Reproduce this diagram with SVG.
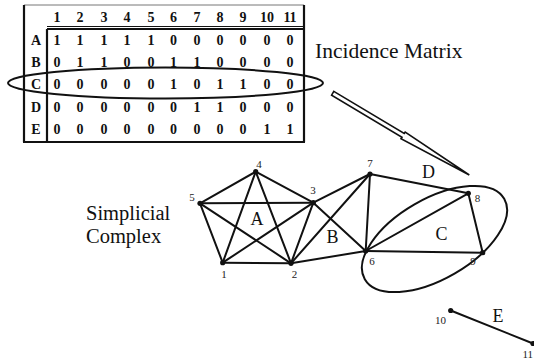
<svg xmlns="http://www.w3.org/2000/svg" width="534" height="362" viewBox="0 0 534 362">
<defs>
<style>
.t{font-family:"Liberation Serif","Times New Roman",serif;fill:#111}
.tb{font-family:"Liberation Serif","Times New Roman",serif;font-weight:bold;font-size:14px;fill:#111;text-anchor:middle}
.big{font-size:20.5px}
.lab{font-size:18px;text-anchor:middle}
.num{font-size:11px;text-anchor:middle;fill:#222}
.frame{stroke:#111;stroke-width:2.2;fill:none}
.e{stroke:#111;stroke-width:2;fill:none;stroke-linecap:round}
.dot{fill:#111}
</style>
</defs>
<rect width="534" height="362" fill="#fff"/>
<g id="matrix">
<line x1="24" y1="5" x2="304" y2="5" stroke="#777" stroke-width="1"/>
<line x1="24" y1="5" x2="24" y2="142" class="frame"/>
<line x1="304" y1="5" x2="304" y2="142" class="frame"/>
<line x1="23" y1="142" x2="305" y2="142" class="frame"/>
<line x1="47" y1="26.5" x2="304" y2="26.5" stroke="#111" stroke-width="1"/>
<line x1="47" y1="29" x2="304" y2="29" class="frame"/>
<line x1="47" y1="29" x2="47" y2="142" class="frame"/>
<g class="tb">
<text x="57" y="21.5">1</text><text x="80" y="21.5">2</text><text x="104" y="21.5">3</text><text x="127" y="21.5">4</text><text x="151" y="21.5">5</text><text x="173.5" y="21.5">6</text><text x="197" y="21.5">7</text><text x="220" y="21.5">8</text><text x="243" y="21.5">9</text><text x="267" y="21.5">10</text><text x="290" y="21.5">11</text>
<text x="36" y="45">A</text><text x="36" y="67">B</text><text x="36" y="89">C</text><text x="36" y="111.5">D</text><text x="36" y="134">E</text>
<text x="57" y="45">1</text><text x="80" y="45">1</text><text x="104" y="45">1</text><text x="127" y="45">1</text><text x="151" y="45">1</text><text x="173.5" y="45">0</text><text x="197" y="45">0</text><text x="220" y="45">0</text><text x="243" y="45">0</text><text x="267" y="45">0</text><text x="290" y="45">0</text>
<text x="57" y="67">0</text><text x="80" y="67">1</text><text x="104" y="67">1</text><text x="127" y="67">0</text><text x="151" y="67">0</text><text x="173.5" y="67">1</text><text x="197" y="67">1</text><text x="220" y="67">0</text><text x="243" y="67">0</text><text x="267" y="67">0</text><text x="290" y="67">0</text>
<text x="57" y="89">0</text><text x="80" y="89">0</text><text x="104" y="89">0</text><text x="127" y="89">0</text><text x="151" y="89">0</text><text x="173.5" y="89">1</text><text x="197" y="89">0</text><text x="220" y="89">1</text><text x="243" y="89">1</text><text x="267" y="89">0</text><text x="290" y="89">0</text>
<text x="57" y="111.5">0</text><text x="80" y="111.5">0</text><text x="104" y="111.5">0</text><text x="127" y="111.5">0</text><text x="151" y="111.5">0</text><text x="173.5" y="111.5">0</text><text x="197" y="111.5">1</text><text x="220" y="111.5">1</text><text x="243" y="111.5">0</text><text x="267" y="111.5">0</text><text x="290" y="111.5">0</text>
<text x="57" y="134">0</text><text x="80" y="134">0</text><text x="104" y="134">0</text><text x="127" y="134">0</text><text x="151" y="134">0</text><text x="173.5" y="134">0</text><text x="197" y="134">0</text><text x="220" y="134">0</text><text x="243" y="134">0</text><text x="267" y="134">1</text><text x="290" y="134">1</text>
</g>
<ellipse cx="165.5" cy="83" rx="157.5" ry="15.5" stroke="#111" stroke-width="2" fill="none"/>
</g>
<g id="title-matrix"><text class="t" style="font-size:21.5px" x="315" y="58">Incidence Matrix</text></g>
<g id="title-complex"><text class="t big" x="86" y="220">Simplicial</text><text class="t big" x="86" y="243">Complex</text></g>
<g id="arrow">
<polygon points="333.8,91.4 404.2,133.5 405.2,132 469.3,175 401,138.8 402,137.3 331.6,95.2" fill="#fff" stroke="#111" stroke-width="1.6" stroke-linejoin="miter"/>
</g>
<g id="connectors" class="e">
<line x1="222.7" y1="262.7" x2="291" y2="263.3"/>
<line x1="222.7" y1="262.7" x2="313.3" y2="202.7"/>
<line x1="222.7" y1="262.7" x2="255.7" y2="171.7"/>
<line x1="222.7" y1="262.7" x2="200" y2="203.3"/>
<line x1="291" y1="263.3" x2="313.3" y2="202.7"/>
<line x1="291" y1="263.3" x2="255.7" y2="171.7"/>
<line x1="291" y1="263.3" x2="200" y2="203.3"/>
<line x1="313.3" y1="202.7" x2="255.7" y2="171.7"/>
<line x1="313.3" y1="202.7" x2="200" y2="203.3"/>
<line x1="255.7" y1="171.7" x2="200" y2="203.3"/>
<line x1="313.3" y1="202.7" x2="370" y2="174"/>
<line x1="291" y1="263.3" x2="370" y2="174"/>
<line x1="313.3" y1="202.7" x2="365.7" y2="251"/>
<line x1="291" y1="263.3" x2="365.7" y2="251"/>
<line x1="370" y1="174" x2="365.7" y2="251"/>
<line x1="370" y1="174" x2="468.3" y2="193.3"/>
<line x1="365.7" y1="251" x2="468.3" y2="193.3"/>
<line x1="365.7" y1="251" x2="482.7" y2="252.7"/>
<line x1="468.3" y1="193.3" x2="482.7" y2="252.7"/>
<line x1="450.7" y1="310.5" x2="533" y2="343.5"/>
<ellipse cx="434.5" cy="239" rx="80.5" ry="40" transform="rotate(-30 434.5 239)"/>
</g>
<g id="n1"><circle class="dot" cx="222.7" cy="262.7" r="2.6"/><text class="t num" x="224" y="277.5">1</text></g>
<g id="n2"><circle class="dot" cx="291" cy="263.3" r="2.6"/><text class="t num" x="294.5" y="277.5">2</text></g>
<g id="n3"><circle class="dot" cx="313.3" cy="202.7" r="2.6"/><text class="t num" x="313" y="193.5">3</text></g>
<g id="n4"><circle class="dot" cx="255.7" cy="171.7" r="2.6"/><text class="t num" x="259" y="168">4</text></g>
<g id="n5"><circle class="dot" cx="200" cy="203.3" r="2.6"/><text class="t num" x="192" y="201">5</text></g>
<g id="n6"><circle class="dot" cx="365.7" cy="251" r="2.6"/><text class="t num" x="372" y="265">6</text></g>
<g id="n7"><circle class="dot" cx="370" cy="174" r="2.6"/><text class="t num" x="370" y="167">7</text></g>
<g id="n8"><circle class="dot" cx="468.3" cy="193.3" r="2.6"/><text class="t num" x="477.5" y="201.5">8</text></g>
<g id="n9"><circle class="dot" cx="482.7" cy="252.7" r="2.6"/><text class="t num" x="473" y="265">9</text></g>
<g id="n10"><circle class="dot" cx="450.7" cy="310.5" r="2.6"/><text class="t num" x="440.5" y="324">10</text></g>
<g id="n11"><circle class="dot" cx="533" cy="343.5" r="2.6"/><text class="t num" style="text-anchor:end" x="533" y="358">11</text></g>
<g id="simplices">
<text class="t lab" x="257" y="225">A</text>
<text class="t lab" x="332.5" y="242.5">B</text>
<text class="t lab" x="441.5" y="240">C</text>
<text class="t lab" x="428.5" y="178.3">D</text>
<text class="t lab" x="498" y="322.3">E</text>
</g>
</svg>
